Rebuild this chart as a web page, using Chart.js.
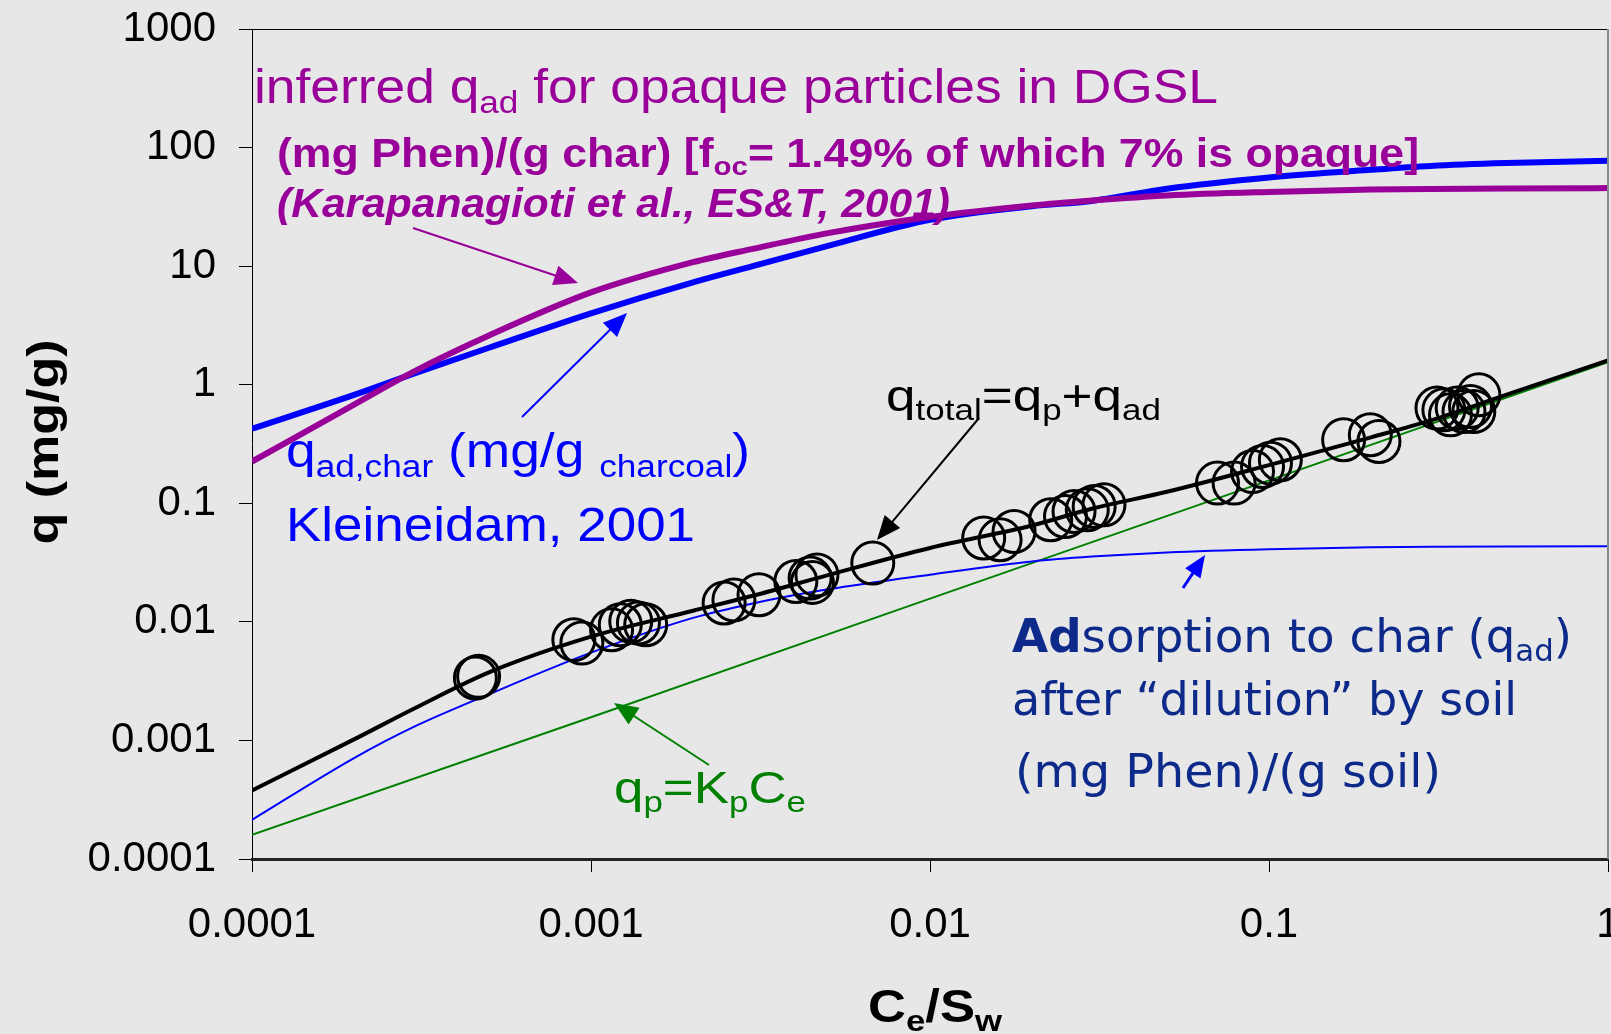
<!DOCTYPE html>
<html>
<head>
<meta charset="utf-8">
<script src="https://cdn.jsdelivr.net/npm/chart.js@4.4.1/dist/chart.umd.min.js"></script>
<style>
  html, body { margin: 0; padding: 0; background: #e7e7e7; }
  canvas { display: block; }
</style>
</head>
<body>
<canvas id="chart" width="1611" height="1034"></canvas>
<script>
// axis ticks
const xTicks = [0.0001, 0.001, 0.01, 0.1, 1];
const xTickLabels = ['0.0001', '0.001', '0.01', '0.1', '1'];
const yTicks = [0.0001, 0.001, 0.01, 0.1, 1, 10, 100, 1000];
const yTickLabels = ['0.0001', '0.001', '0.01', '0.1', '1', '10', '100', '1000'];

const ceGrid = [0.0001, 0.0002, 0.0003, 0.0005, 0.001, 0.002, 0.003, 0.005, 0.01,
                0.02, 0.03, 0.05, 0.1, 0.2, 0.3, 0.5, 1];
// inferred q_ad, opaque particles (mg Phen / g char)
const qadOpaque = [0.225, 0.68, 1.29, 2.6, 6.0, 10.8, 14.0, 19.0, 26, 32.5, 35.8, 39.5,
                   42.3, 44.2, 44.8, 45.2, 45.5];
// q_ad,char, Kleineidam 2001
const qadChar = [0.425, 0.82, 1.24, 2.05, 4.0, 7.3, 10.0, 14.8, 24.6, 32, 35.5, 45,
                 56, 65, 70, 74, 77.6];
// adsorption to char after dilution by soil
const qadSoil = [0.000214, 0.00071, 0.0013, 0.00245, 0.0055, 0.0108, 0.0143, 0.0188,
                 0.025, 0.0323, 0.0355, 0.0385, 0.041, 0.0425, 0.043, 0.0433, 0.0434];
// q_total = q_p + q_ad
const qTotal = [0.000379, 0.00102, 0.00185, 0.00375, 0.0075, 0.0124, 0.0166, 0.0248, 0.042,
                0.065, 0.09, 0.125, 0.21, 0.36, 0.5, 0.82, 1.6];
// q_p = Kp Ce
const ceLinear = [0.0001, 0.001, 0.01, 0.1, 1];
const qPartition = [0.00016, 0.00157, 0.0157, 0.156, 1.55];

// measured points
const obsCe = [0.000456, 0.000466, 0.00089, 0.00094, 0.00115, 0.00122, 0.00131, 0.00138,
               0.00145, 0.00247, 0.00264, 0.00313, 0.00402, 0.00443, 0.00464, 0.0045,
               0.00678, 0.0144, 0.0161, 0.0177, 0.0227, 0.0251, 0.0266, 0.0291, 0.0305,
               0.0326, 0.0705, 0.0789, 0.0894, 0.0957, 0.101, 0.108, 0.166, 0.199, 0.211,
               0.328, 0.343, 0.359, 0.376, 0.393, 0.402, 0.416, 0.313];
const obsQ = [0.00336, 0.00347, 0.00707, 0.00662, 0.00857, 0.00945, 0.0101, 0.00977,
              0.00946, 0.0144, 0.0153, 0.0169, 0.0219, 0.0234, 0.0249, 0.0215,
              0.0313, 0.0509, 0.0492, 0.0578, 0.0726, 0.0774, 0.0853, 0.088, 0.094,
              0.097, 0.148, 0.148, 0.185, 0.204, 0.218, 0.233, 0.343, 0.378, 0.332,
              0.614, 0.557, 0.635, 0.594, 0.655, 0.594, 0.822, 0.635];

const PURPLE = '#990099';
const BLUE = '#0000ff';
const NAVY = '#0d2a8a';
const GREEN = '#008000';
const FONT = 'Arial, "Liberation Sans", sans-serif';

function toXY(xs, ys) {
  return xs.map((x, i) => ({ x: x, y: ys[i] }));
}

// text with subscripts, squeezed/stretched to a given width
function richText(ctx, parts, x, y, o) {
  const fam = o.family || FONT;
  let w = 0;
  const items = parts.map(p => {
    const sz = p.sub ? o.size * 0.66 : o.size;
    const f = (o.style || '') + ' ' + (p.bold ? 'bold' : (o.weight || 'normal')) + ' ' + sz + 'px ' + fam;
    ctx.font = f;
    const it = { t: p.t, f: f, x: w, dy: p.sub ? o.size * 0.2 : 0 };
    w += ctx.measureText(p.t).width;
    return it;
  });
  const sx = o.width ? o.width / w : 1;
  ctx.save();
  ctx.translate(x, y);
  if (o.rotate) ctx.rotate(o.rotate);
  ctx.scale(sx, 1);
  const x0 = o.center ? -w / 2 : 0;
  ctx.fillStyle = o.color || '#000';
  ctx.textAlign = 'left';
  ctx.textBaseline = o.center ? 'middle' : 'alphabetic';
  items.forEach(it => {
    ctx.font = it.f;
    ctx.fillText(it.t, x0 + it.x, it.dy);
  });
  ctx.restore();
}

function arrow(ctx, x1, y1, x2, y2, color, lw, hl) {
  const a = Math.atan2(y2 - y1, x2 - x1);
  const hw = hl * 0.42;
  const c = Math.cos(a), s = Math.sin(a);
  ctx.save();
  ctx.strokeStyle = color;
  ctx.fillStyle = color;
  ctx.lineWidth = lw;
  ctx.beginPath();
  ctx.moveTo(x1, y1);
  ctx.lineTo(x2 - c * hl * 0.8, y2 - s * hl * 0.8);
  ctx.stroke();
  ctx.beginPath();
  ctx.moveTo(x2, y2);
  ctx.lineTo(x2 - hl * c + hw * s, y2 - hl * s - hw * c);
  ctx.lineTo(x2 - hl * c - hw * s, y2 - hl * s + hw * c);
  ctx.closePath();
  ctx.fill();
  ctx.restore();
}

const background = {
  id: 'background',
  beforeDraw(chart) {
    const ctx = chart.ctx;
    ctx.save();
    ctx.fillStyle = '#e7e7e7';
    ctx.fillRect(0, 0, chart.width, chart.height);
    ctx.restore();
  }
};

const notes = {
  id: 'notes',
  afterDraw(chart) {
    const ctx = chart.ctx;
    const a = chart.chartArea;

    // frame: top and right
    ctx.save();
    ctx.strokeStyle = '#000';
    ctx.lineWidth = 1;
    ctx.beginPath();
    ctx.moveTo(a.left, a.top + 0.5);
    ctx.lineTo(a.right, a.top + 0.5);
    ctx.stroke();
    ctx.strokeStyle = '#8a8a8a';
    ctx.lineWidth = 2;
    ctx.beginPath();
    ctx.moveTo(a.right, a.top);
    ctx.lineTo(a.right, a.bottom);
    ctx.stroke();
    ctx.restore();

    richText(ctx, [{ t: 'inferred q' }, { t: 'ad', sub: 1 }, { t: ' for opaque particles in DGSL' }],
      254, 103, { size: 48, color: PURPLE, width: 964 });
    richText(ctx, [{ t: '(mg Phen)/(g char) [f' }, { t: 'oc', sub: 1 }, { t: '= 1.49% of which 7% is opaque]' }],
      277, 167, { size: 40, weight: 'bold', color: PURPLE, width: 1142 });
    richText(ctx, [{ t: '(Karapanagioti et al., ES&T, 2001)' }],
      277, 217, { size: 40, weight: 'bold', style: 'italic', color: PURPLE, width: 673 });

    richText(ctx, [{ t: 'q' }, { t: 'ad,char', sub: 1 }, { t: ' (mg/g ' }, { t: 'charcoal', sub: 1 }, { t: ')' }],
      286, 467, { size: 48, color: BLUE, width: 464 });
    richText(ctx, [{ t: 'Kleineidam, 2001' }], 286, 541, { size: 48, color: BLUE, width: 409 });

    richText(ctx, [{ t: 'q' }, { t: 'total', sub: 1 }, { t: '=q' }, { t: 'p', sub: 1 }, { t: '+q' }, { t: 'ad', sub: 1 }],
      886, 411, { size: 44, color: '#000', width: 275 });

    const dv = '"DejaVu Sans", Verdana, sans-serif';
    richText(ctx, [{ t: 'Ad', bold: 1 }, { t: 'sorption to char (q' }, { t: 'ad', sub: 1 }, { t: ')' }],
      1012, 652, { size: 46, family: dv, color: NAVY, width: 560 });
    richText(ctx, [{ t: 'after \u201cdilution\u201d by soil' }], 1012, 715, { size: 46, family: dv, color: NAVY, width: 505 });
    richText(ctx, [{ t: '(mg Phen)/(g soil)' }], 1015, 787, { size: 46, family: dv, color: NAVY, width: 426 });

    richText(ctx, [{ t: 'q' }, { t: 'p', sub: 1 }, { t: '=K' }, { t: 'p', sub: 1 }, { t: 'C' }, { t: 'e', sub: 1 }],
      614, 803, { size: 44, color: GREEN, width: 192 });

    // axis titles
    richText(ctx, [{ t: 'q (mg/g)' }], 46, 442,
      { size: 44, weight: 'bold', color: '#000', width: 205, center: true, rotate: -Math.PI / 2 });
    richText(ctx, [{ t: 'C' }, { t: 'e', sub: 1 }, { t: '/S' }, { t: 'w', sub: 1 }],
      868, 1022, { size: 46, weight: 'bold', color: '#000', width: 134 });

    arrow(ctx, 413, 228, 578, 283, PURPLE, 2, 24);
    arrow(ctx, 522, 417, 627, 313, BLUE, 2, 24);
    arrow(ctx, 979, 418, 877, 540, '#000', 2, 24);
    arrow(ctx, 1183, 588, 1205, 555, BLUE, 3, 22);
    arrow(ctx, 709, 765, 614, 703, GREEN, 2, 24);
  }
};

const curve = (data, color, width) => ({
  data: data,
  showLine: true,
  borderColor: color,
  backgroundColor: color,
  borderWidth: width,
  pointRadius: 0,
  cubicInterpolationMode: 'monotone'
});

new Chart(document.getElementById('chart'), {
  type: 'scatter',
  data: {
    datasets: [
      {
        label: 'measured',
        data: toXY(obsCe, obsQ),
        showLine: false,
        pointRadius: 21,
        pointBorderWidth: 3,
        borderColor: '#000',
        backgroundColor: 'rgba(0,0,0,0)'
      },
      curve(toXY(ceGrid, qTotal), '#000', 4),
      curve(toXY(ceGrid, qadSoil), BLUE, 2),
      Object.assign(curve(toXY(ceLinear, qPartition), GREEN, 2), { cubicInterpolationMode: 'default', tension: 0 }),
      curve(toXY(ceGrid, qadOpaque), PURPLE, 6),
      curve(toXY(ceGrid, qadChar), BLUE, 6)
    ]
  },
  options: {
    responsive: false,
    animation: false,
    devicePixelRatio: 1,
    layout: { autoPadding: false, padding: { top: 29, right: 3, left: 0, bottom: 0 } },
    plugins: { legend: { display: false }, tooltip: { enabled: false } },
    scales: {
      x: {
        type: 'logarithmic',
        position: 'bottom',
        min: 0.0001,
        max: 1,
        afterBuildTicks: s => { s.ticks = xTicks.map(v => ({ value: v })); },
        afterFit: s => { s.height = 175; s.paddingLeft = 0; s.paddingRight = 0; },
        ticks: {
          autoSkip: false,
          maxRotation: 0,
          padding: 28,
          color: '#000',
          font: { family: FONT, size: 42 },
          callback: (v, i) => xTickLabels[i]
        },
        grid: { drawOnChartArea: false, tickLength: 13, color: '#000', tickColor: '#000' },
        border: { color: '#222', width: 3 }
      },
      y: {
        type: 'logarithmic',
        position: 'left',
        min: 0.0001,
        max: 1000,
        afterBuildTicks: s => { s.ticks = yTicks.map(v => ({ value: v })); },
        afterFit: s => { s.width = 252; s.paddingTop = 0; s.paddingBottom = 0; },
        ticks: {
          autoSkip: false,
          padding: 23,
          color: '#000',
          font: { family: FONT, size: 42 },
          callback: (v, i) => yTickLabels[i]
        },
        grid: { drawOnChartArea: false, tickLength: 13, color: '#000', tickColor: '#000' },
        border: { color: '#000', width: 1 }
      }
    }
  },
  plugins: [background, notes]
});
</script>
</body>
</html>
